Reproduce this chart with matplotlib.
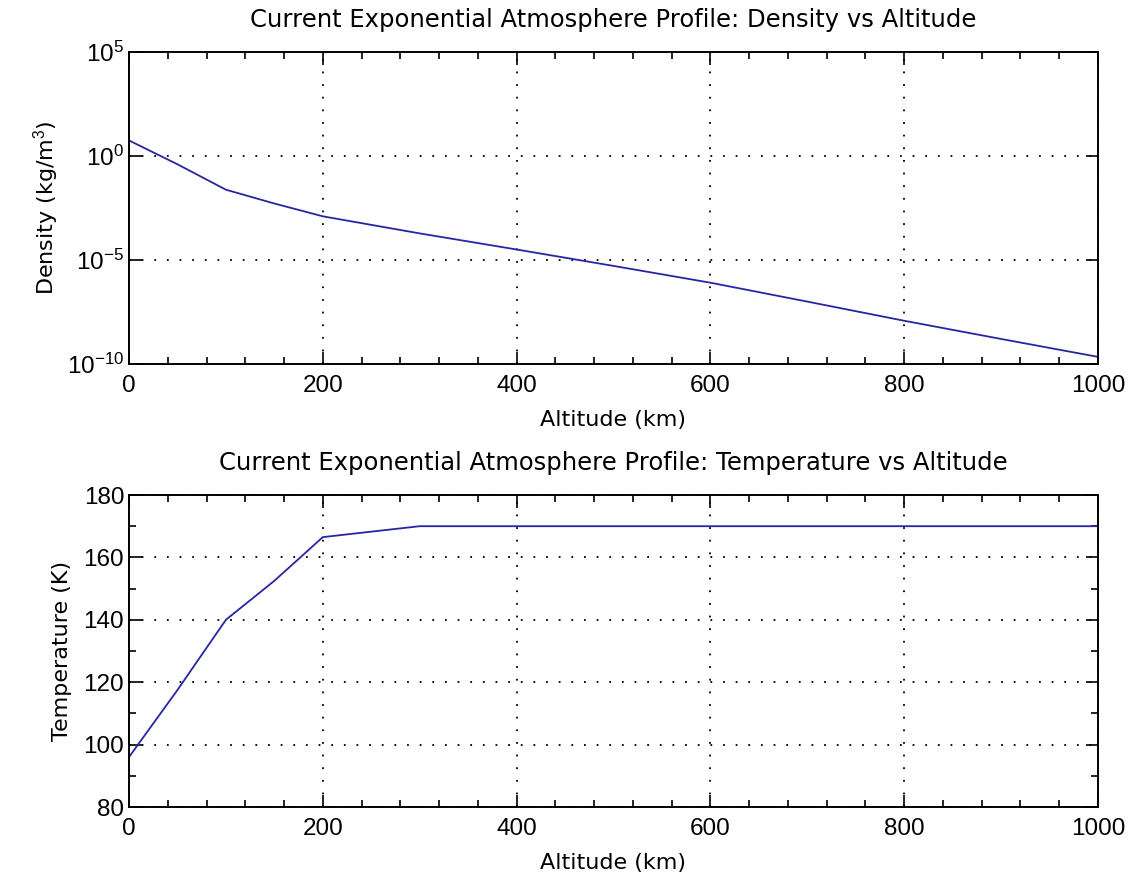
import numpy as np
import matplotlib
matplotlib.use("Agg")
import matplotlib.pyplot as plt
from matplotlib.ticker import FixedLocator, MultipleLocator, NullLocator, LogFormatterSciNotation

plt.rcParams['font.family'] = ['Liberation Sans', 'DejaVu Sans']
plt.rcParams['mathtext.fontset'] = 'custom'
plt.rcParams['mathtext.rm'] = 'Liberation Sans'
plt.rcParams['mathtext.it'] = 'Liberation Sans'

altitude_km = [0, 50, 100, 150, 200, 300, 400, 500, 600, 700, 800, 900, 1000]
density = [5.6, 0.40, 0.024, 5.2e-3, 1.26e-3, 1.9e-4, 3.2e-5, 5.2e-6,
           8.1e-7, 1.0e-7, 1.2e-8, 1.6e-9, 2.2e-10]
temperature = [96, 117.5, 140, 152.5, 166.5, 170, 170, 170, 170, 170, 170, 170, 170]

x_ticks = [0, 200, 400, 600, 800, 1000]
dens_ticks = [1e-10, 1e-5, 1e0, 1e5]
temp_ticks = [80, 100, 120, 140, 160, 180]

title_top = "Current Exponential Atmosphere Profile: Density vs Altitude"
title_bot = "Current Exponential Atmosphere Profile: Temperature vs Altitude"
xlabel = "Altitude (km)"
ylabel_top = "Density (kg/m$^3$)"
ylabel_bot = "Temperature (K)"

W, H = 1133, 890
fig = plt.figure(figsize=(W / 100, H / 100), dpi=100)

line_color = '#2626a0'
grid_kw = dict(color='black', linestyle=(0, (1, 6)), linewidth=1.3)
text_font = ['DejaVu Sans']

def style(ax):
    ax.set_xlim(0, 1000)
    ax.xaxis.set_major_locator(FixedLocator(x_ticks))
    ax.xaxis.set_minor_locator(MultipleLocator(40))
    ax.tick_params(which='both', direction='in', top=True, right=True, labelsize=17.5, width=1.2)
    ax.tick_params(which='major', length=9)
    ax.tick_params(which='minor', length=5)
    ax.tick_params(axis='x', pad=8)
    for s in ax.spines.values():
        s.set_linewidth(1.4)
    ax.grid(True, which='major', **grid_kw)
    ax.set_axisbelow(True)

ax1 = fig.add_axes([129 / W, 1 - 364 / H, 969 / W, 312 / H])
ax1.semilogy(altitude_km, density, color=line_color, linewidth=1.3)
style(ax1)
ax1.set_ylim(1e-10, 1e5)
ax1.yaxis.set_major_locator(FixedLocator(dens_ticks))
ax1.yaxis.set_minor_locator(NullLocator())
ax1.yaxis.set_major_formatter(LogFormatterSciNotation())
ax1.set_title(title_top, fontsize=17.5, pad=18, family=text_font)
ax1.set_xlabel(xlabel, fontsize=16, labelpad=9, family=text_font)
ax1.set_ylabel(ylabel_top, fontsize=16, labelpad=4, family=text_font)

ax2 = fig.add_axes([129 / W, 1 - 807 / H, 969 / W, 312 / H])
ax2.plot(altitude_km, temperature, color=line_color, linewidth=1.3)
style(ax2)
ax2.set_ylim(80, 180)
ax2.yaxis.set_major_locator(FixedLocator(temp_ticks))
ax2.yaxis.set_minor_locator(MultipleLocator(10))
ax2.set_title(title_bot, fontsize=17.5, pad=18, family=text_font)
ax2.set_xlabel(xlabel, fontsize=16, labelpad=9, family=text_font)
ax2.set_ylabel(ylabel_bot, fontsize=16, labelpad=8, family=text_font)

fig.savefig("out.png", dpi=100, facecolor='white')
